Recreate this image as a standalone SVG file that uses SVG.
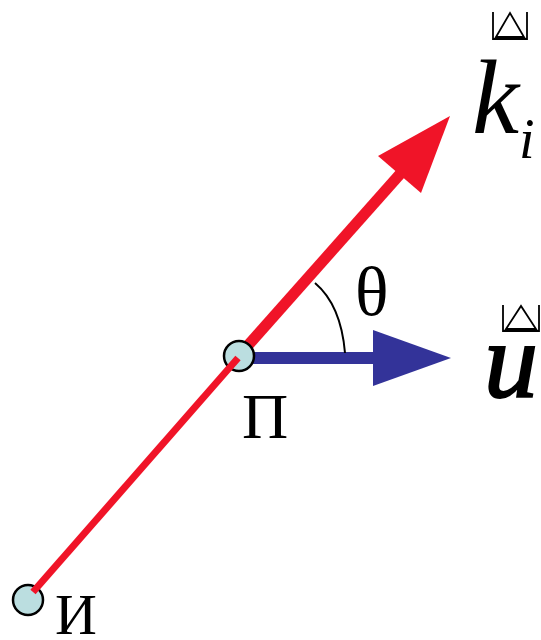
<svg xmlns="http://www.w3.org/2000/svg" width="541" height="640" viewBox="0 0 541 640">
<style>
.serif{font-family:"Liberation Serif","Times New Roman",serif;fill:#000}
.it{font-style:italic}
.node{fill:#bbdee0;stroke:#000;stroke-width:2.5}
.sym{fill:none;stroke:#000;stroke-width:1.8}
</style>
<rect width="541" height="640" fill="#fff"/>
<g id="connectors">
  <line x1="243" y1="351" x2="401" y2="173" stroke="#f01428" stroke-width="11"/>
  <polygon points="450,116 378,156 421,193" fill="#f01428"/>
  <line x1="240" y1="358" x2="380" y2="358" stroke="#333399" stroke-width="12"/>
  <polygon points="451,358 373,330 373,386" fill="#333399"/>
  <path d="M315,283 Q341,305 345,353" fill="none" stroke="#000" stroke-width="2"/>
</g>
<g id="node-P">
  <circle class="node" cx="239" cy="356" r="15"/>
  <text class="serif" x="242" y="438" font-size="64">П</text>
</g>
<g id="node-I">
  <circle class="node" cx="28" cy="600" r="15"/>
  <text class="serif" x="55" y="634" font-size="58">И</text>
</g>
<g id="connector-thin">
  <line x1="33" y1="592" x2="238" y2="358" stroke="#f01428" stroke-width="7"/>
</g>
<g id="label-theta">
  <text class="serif" x="355" y="315" font-size="70">θ</text>
</g>
<g id="label-k">
  <path class="sym" d="M493,12 V39 H527 V12 M496,37 L510,13 L524,37 Z"/>
  <text class="serif it" x="472" y="133" font-size="106">k</text>
  <text class="serif it" x="519" y="158" font-size="56">i</text>
</g>
<g id="label-u">
  <path class="sym" d="M503,305 V331 H539 V305 M506,329 L521,306 L536,329 Z"/>
  <text class="serif it" x="484" y="397" font-size="108" stroke="#000" stroke-width="2">u</text>
</g>
</svg>
